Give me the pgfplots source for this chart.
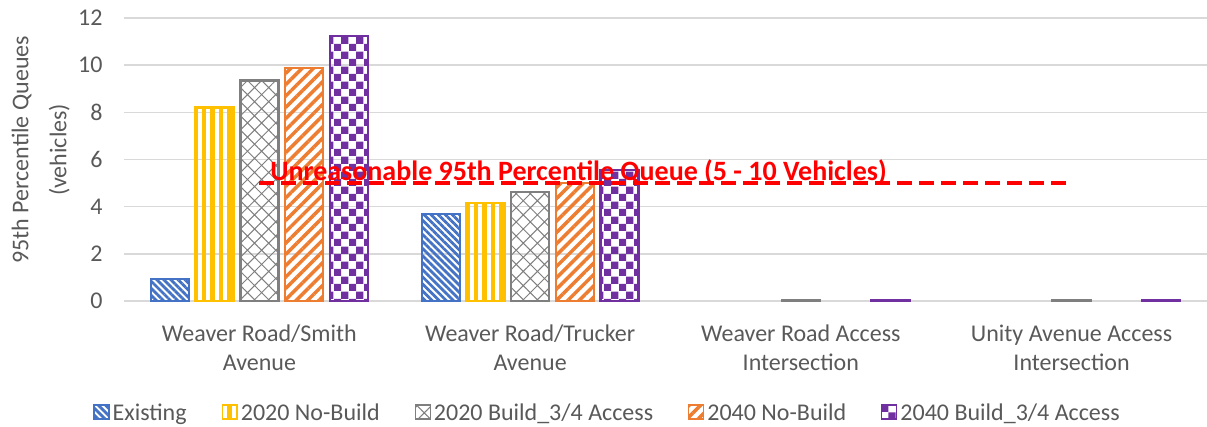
\documentclass[border=0pt]{standalone}
\usepackage{fontspec}
\setmainfont{Carlito}
\usepackage{pgfplots}
\pgfplotsset{compat=1.18}
\usetikzlibrary{patterns,patterns.meta}

\definecolor{cblue}{RGB}{68,114,196}
\definecolor{cyellow}{RGB}{255,192,0}
\definecolor{cgray}{RGB}{127,127,127}
\definecolor{corange}{RGB}{237,125,49}
\definecolor{cpurple}{RGB}{112,48,160}
\definecolor{txt}{RGB}{89,89,89}
\definecolor{gridc}{RGB}{217,217,217}

% checkerboard with bigger squares than the tikz one
\pgfdeclarepatternformonly{bigcheck}{\pgfqpoint{0pt}{0pt}}{\pgfqpoint{15.2pt}{15.2pt}}{\pgfqpoint{15.2pt}{15.2pt}}{%
  \pgfpathrectangle{\pgfpointorigin}{\pgfqpoint{7.6pt}{7.6pt}}%
  \pgfpathrectangle{\pgfqpoint{7.6pt}{7.6pt}}{\pgfqpoint{7.6pt}{7.6pt}}%
  \pgfusepath{fill}}

\begin{document}
\begin{tikzpicture}
\begin{axis}[
  scale only axis, width=1083pt, height=283pt,
  ybar=6.7pt, bar width=38pt,
  xmin=-0.5, xmax=3.5, ymin=0, ymax=12,
  xtick={0,1,2,3},
  xticklabels={{Weaver Road/Smith\\Avenue},{Weaver Road/Trucker\\Avenue},
    {Weaver Road Access\\Intersection},{Unity Avenue Access\\Intersection}},
  ytick={0,2,...,12},
  ymajorgrids, xmajorgrids=false, major grid style={gridc, line width=1.4pt},
  axis line style={draw=none}, tick style={draw=none},
  /pgf/number format/assume math mode=true,
  every tick label/.append style={font=\fontsize{24}{29.5}\selectfont, text=txt},
  xticklabel style={align=center, yshift=-16pt},
  yticklabel style={xshift=-18pt},
  ylabel={95th Percentile Queues\\(vehicles)},
  ylabel style={at={(axis description cs:-0.077,0.534)}, anchor=center,
    align=center, font=\fontsize{24}{38}\selectfont, text=txt},
  legend columns=5,
  legend style={at={(axis description cs:0.447,-0.396)}, anchor=center, draw=none,
    font=\fontsize{24}{26}\selectfont, text=txt,
    nodes={inner xsep=3pt},
    /tikz/every even column/.append style={column sep=32pt}},
  legend image code/.code={\draw[#1, line width=1.2pt] (0pt,-6pt) rectangle (15pt,8pt);},
  clip=false,
]
\addplot[draw=cblue, line width=2pt, pattern={Lines[angle=-45,distance=5pt,line width=2.8pt]}, pattern color=cblue]
  coordinates {(0,0.95) (1,3.69)};
\addplot[draw=cyellow, line width=2.5pt, pattern={Lines[angle=90,distance=8.5pt,line width=4.5pt]}, pattern color=cyellow]
  coordinates {(0,8.2) (1,4.15)};
\addplot[draw=cgray, line width=2.5pt, pattern={Hatch[angle=45,distance=10pt,line width=1pt]}, pattern color=cgray]
  coordinates {(0,9.35) (1,4.62) (2,0.03) (3,0.03)};
\addplot[draw=corange, line width=2.5pt, pattern={Lines[angle=45,distance=8pt,line width=3.5pt]}, pattern color=corange]
  coordinates {(0,9.87) (1,5.0)};
\addplot[draw=cpurple, line width=2.5pt, pattern=bigcheck, pattern color=cpurple]
  coordinates {(0,11.23) (1,5.55) (2,0.03) (3,0.03)};
\legend{Existing, 2020 No-Build, 2020 Build\_3/4 Access, 2040 No-Build, 2040 Build\_3/4 Access}
\addplot[sharp plot, forget plot, draw=red, line width=4.5pt, dash pattern=on 15pt off 7pt]
  coordinates {(0,5) (3,5)}
  node[pos=0.393, anchor=base, yshift=3pt, text=red, font=\fontsize{28}{30}\selectfont\bfseries]
  {Unreasonable 95th Percentile Queue (5 - 10 Vehicles)};
\end{axis}
\pgfresetboundingbox
\path ([shift={(-124pt,-126pt)}]current axis.south west) rectangle ++(1207pt,427pt);
\end{tikzpicture}
\end{document}
